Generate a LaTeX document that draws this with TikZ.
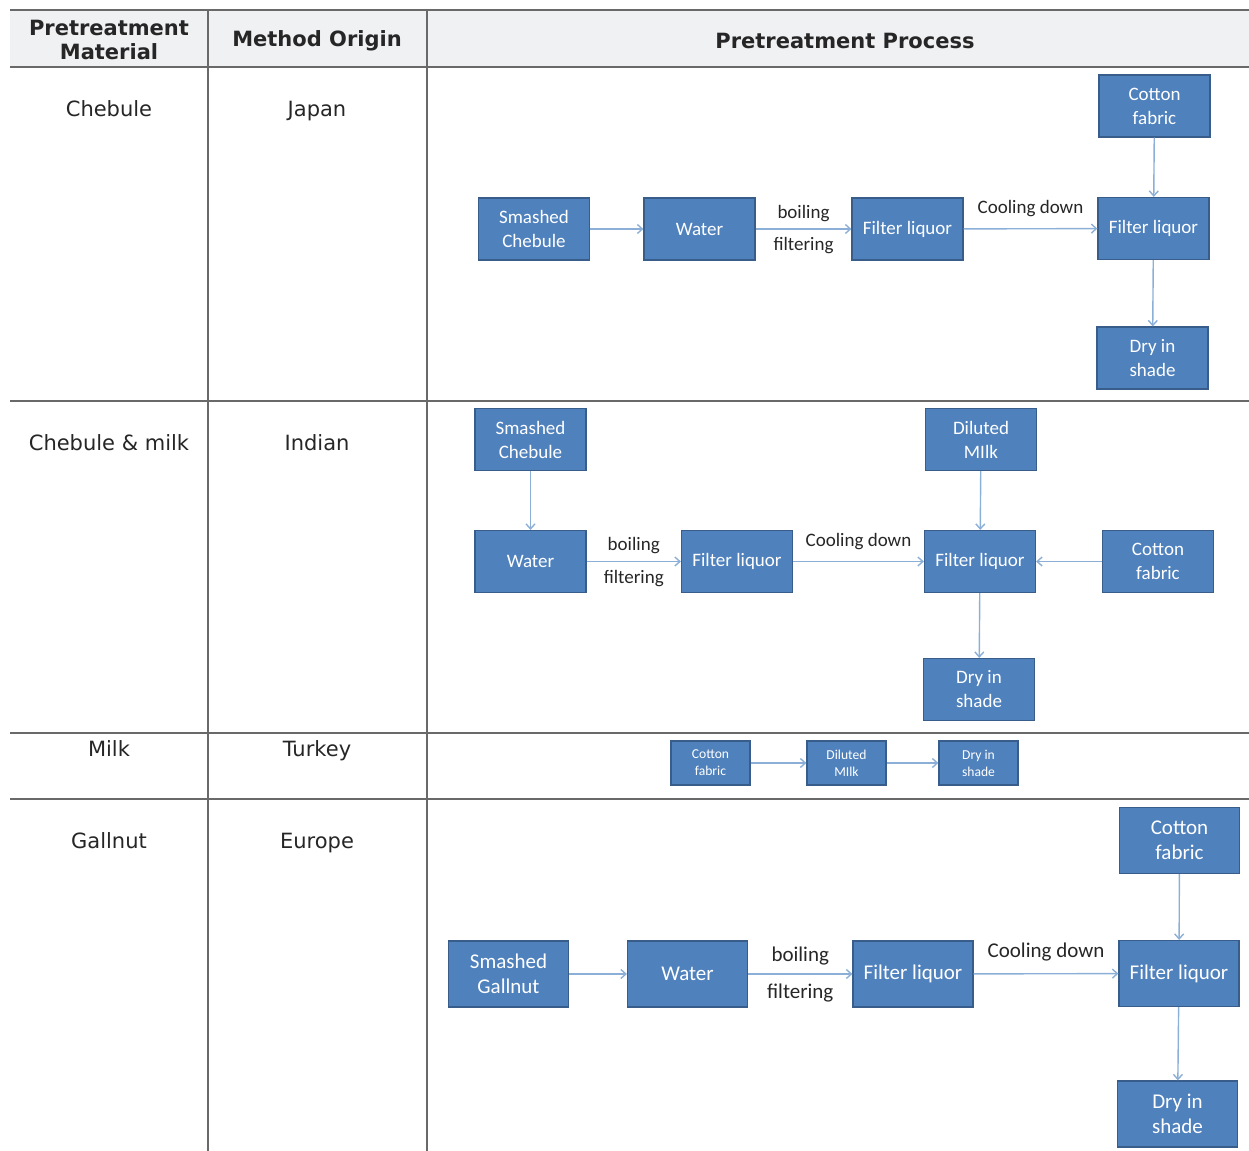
\documentclass[tikz,border=0pt]{standalone}
\usepackage{fontspec}
\setmainfont{DejaVu Sans}
\newfontfamily\boxfont{Carlito}
\usetikzlibrary{arrows.meta,positioning}
\definecolor{boxblue}{RGB}{79,129,189}
\definecolor{boxedge}{RGB}{56,93,138}
\definecolor{flowblue}{RGB}{140,175,215}
\definecolor{rulegray}{RGB}{105,105,105}
\definecolor{headgray}{RGB}{240,241,243}
\tikzset{
  pbox/.style={draw=boxedge, fill=boxblue, text=white, line width=0.6pt,
               font=\boxfont\fontsize{9.5}{12}\selectfont, align=center,
               inner sep=0pt, minimum width=55.5pt, minimum height=31pt},
  pboxs/.style={pbox, font=\boxfont\fontsize{6.8}{8.5}\selectfont,
                minimum width=39.5pt, minimum height=22pt},
  pboxl/.style={pbox, font=\boxfont\fontsize{10.5}{12.5}\selectfont,
                minimum width=60pt, minimum height=33pt},
  flow/.style={draw=flowblue, line width=0.7pt, -{Straight Barb[length=2.5pt,width=4.5pt]}},
  steplbl/.style={font=\boxfont\fontsize{9.5}{11}\selectfont, inner sep=0pt, text=black!85},
  steplbll/.style={font=\boxfont\fontsize{10.5}{12}\selectfont, inner sep=0pt, text=black!85},
  rule/.style={draw=rulegray, line width=0.7pt},
  headtext/.style={font=\bfseries\fontsize{10.5}{12}\selectfont, align=center, text=black!85},
  celltext/.style={font=\fontsize{10.5}{12}\selectfont, anchor=base, text=black!85},
}
\begin{document}
\begin{tikzpicture}[x=0.5pt, y=-0.5pt]
\useasboundingbox (0,0) rectangle (1249,1151);

% Table grid
\fill[headgray] (10,10) rectangle (1249,67);
\draw[rule, line width=1pt] (10,10) -- (1249,10);
\foreach \yy in {67,401,733,799}
  \draw[rule] (10,\yy) -- (1249,\yy);
\foreach \xx in {208,427}
  \draw[rule] (\xx,10) -- (\xx,1151);

% Header
\node[headtext] (hmat) at (109,40) {Pretreatment\\Material};
\node[headtext] (horg) at (317,40.5) {Method Origin};
\node[headtext] (hproc) at (845,40.5) {Pretreatment Process};

% Material and origin
\node[celltext] (mat1) at (109,116) {Chebule};
\node[celltext] (org1) at (317,116) {Japan};
\node[celltext] (mat2) at (109,450) {Chebule \& milk};
\node[celltext] (org2) at (317,450) {Indian};
\node[celltext] (mat3) at (109,756) {Milk};
\node[celltext] (org3) at (317,756) {Turkey};
\node[celltext] (mat4) at (109,848) {Gallnut};
\node[celltext] (org4) at (317,848) {Europe};

% Chebule, Japan
\node[pbox] (smashed1) at (534,229) {Smashed\\Chebule};
\node[pbox] (water1) at (699.5,229) {Water};
\node[pbox] (filtera1) at (907.5,229) {Filter liquor};
\node[pbox] (filterb1) at (1153.5,228.5) {Filter liquor};
\node[pbox] (cotton1) at (1154.5,106) {Cotton\\fabric};
\node[pbox] (dry1) at (1152.5,358) {Dry in\\shade};

\draw[flow] (smashed1) -- (water1);
\draw[flow] (water1) -- node[steplbl, above=3.5pt] {boiling}
                        node[steplbl, below=4pt] {filtering} (filtera1);
\draw[flow] (filtera1) -- node[steplbl, above=5.5pt] {Cooling down} (filterb1);
\draw[flow] (cotton1) -- (filterb1);
\draw[flow] (filterb1) -- (dry1);

% Chebule & milk, Indian
\node[pbox] (smashed2) at (530.5,439.5) {Smashed\\Chebule};
\node[pbox] (water2) at (530.5,561.5) {Water};
\node[pbox] (filtera2) at (737,561.5) {Filter liquor};
\node[pbox] (filterb2) at (980,561.5) {Filter liquor};
\node[pbox] (milk2) at (981,439.5) {Diluted\\MIlk};
\node[pbox] (cotton2) at (1158,561.5) {Cotton\\fabric};
\node[pbox] (dry2) at (979,689.5) {Dry in\\shade};

\draw[flow] (smashed2) -- (water2);
\draw[flow] (water2) -- node[steplbl, above=3.5pt] {boiling}
                        node[steplbl, below=4pt] {filtering} (filtera2);
\draw[flow] (filtera2) -- node[steplbl, above=5.5pt] {Cooling down} (filterb2);
\draw[flow] (milk2) -- (filterb2);
\draw[flow] (cotton2) -- (filterb2);
\draw[flow] (filterb2) -- (dry2);

% Milk, Turkey
\node[pboxs] (cotton3) at (710.5,763) {Cotton\\fabric};
\node[pboxs] (milk3) at (846.5,763) {Diluted\\MIlk};
\node[pboxs] (dry3) at (978.5,763) {Dry in\\shade};

\draw[flow] (cotton3) -- (milk3);
\draw[flow] (milk3) -- (dry3);

% Gallnut, Europe
\node[pboxl] (smashed4) at (508.5,974) {Smashed\\Gallnut};
\node[pboxl] (water4) at (687.5,974) {Water};
\node[pboxl] (filtera4) at (913,974) {Filter liquor};
\node[pboxl] (filterb4) at (1179,973.5) {Filter liquor};
\node[pboxl] (cotton4) at (1179.5,840.5) {Cotton\\fabric};
\node[pboxl] (dry4) at (1177.5,1114) {Dry in\\shade};

\draw[flow] (smashed4) -- (water4);
\draw[flow] (water4) -- node[steplbll, above=4pt] {boiling}
                        node[steplbll, below=4.5pt] {filtering} (filtera4);
\draw[flow] (filtera4) -- node[steplbll, above=6pt] {Cooling down} (filterb4);
\draw[flow] (cotton4) -- (filterb4);
\draw[flow] (filterb4) -- (dry4);

\end{tikzpicture}
\end{document}
